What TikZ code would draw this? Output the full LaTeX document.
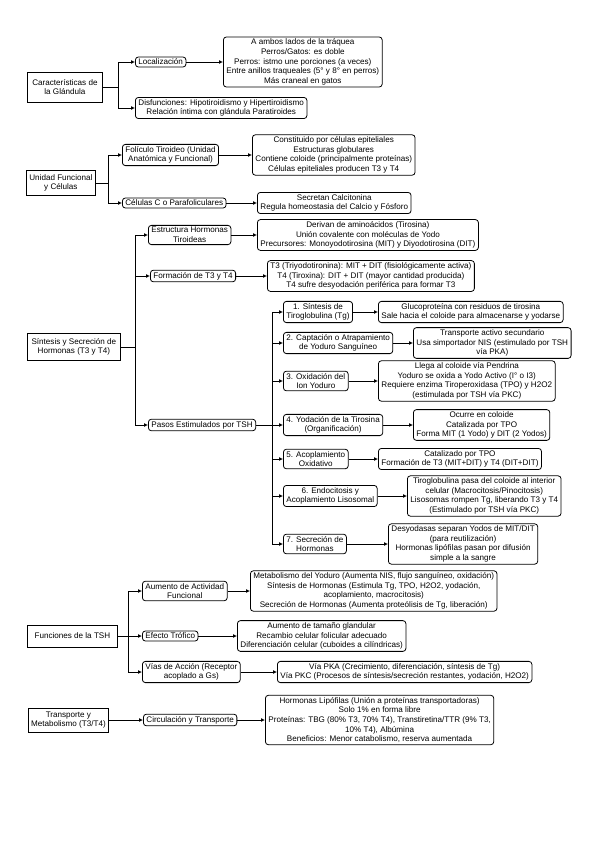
\documentclass[tikz,border=0pt]{standalone}
\usepackage{fontspec}
\setmainfont{Liberation Sans}
\usetikzlibrary{arrows.meta}
\begin{document}
\begin{tikzpicture}[x=1pt,y=-1pt,
  font=\fontsize{8.1}{9.6}\selectfont,
  rootbox/.style={draw, line width=0.8pt, align=center, inner xsep=2pt, inner ysep=3pt, anchor=west},
  subbox/.style={draw, rounded corners=3pt, line width=0.8pt, align=center, inner xsep=3pt, inner ysep=2pt, anchor=west},
  arr/.style={-{Latex[length=4pt,width=4pt]}, line width=0.8pt},
  ln/.style={line width=0.8pt}]
\useasboundingbox (0,0) rectangle (599,848);

% ---------- Root 1
\node[rootbox, minimum width=75pt, minimum height=30pt] (r1) at (27,87) {Características de\\la Glándula};
\node[subbox] (a1) at (135,62) {Localización};
\node[subbox] (a1d) at (223,62) {A ambos lados de la tráquea\\Perros/Gatos: es doble\\Perros: istmo une porciones (a veces)\\Entre anillos traqueales (5° y 8° en perros)\\Más craneal en gatos};
\node[subbox] (a2) at (135,108) {Disfunciones: Hipotiroidismo y Hipertiroidismo\\Relación íntima con glándula Paratiroides};
\coordinate (k1) at (118,87);
\draw[ln] (r1.east) -- (k1);
\draw[arr] (k1) |- (a1.west);
\draw[arr] (k1) |- (a2.west);
\draw[arr] (a1.east) -- (a1.east -| a1d.west);

% ---------- Root 2
\node[rootbox, minimum width=69pt, minimum height=25pt] (r2) at (26,183) {Unidad Funcional\\y Células};
\node[subbox] (b1) at (122,155) {Folículo Tiroideo (Unidad\\Anatómica y Funcional)};
\node[subbox] (b1d) at (252,155) {Constituido por células epiteliales\\Estructuras globulares\\Contiene coloide (principalmente proteínas)\\Células epiteliales producen T3 y T4};
\node[subbox] (b2) at (122,203) {Células C o Parafoliculares};
\node[subbox] (b2d) at (257,203) {Secretan Calcitonina\\Regula homeostasia del Calcio y Fósforo};
\coordinate (k2) at (108,183);
\draw[ln] (r2.east) -- (k2);
\draw[arr] (k2) |- (b1.west);
\draw[arr] (k2) |- (b2.west);
\draw[arr] (b1.east) -- (b1.east -| b1d.west);
\draw[arr] (b2.east) -- (b2.east -| b2d.west);

% ---------- Root 3
\node[rootbox, minimum width=93pt, minimum height=27pt] (r3) at (27,347) {Síntesis y Secreción de\\Hormonas (T3 y T4)};
\node[subbox] (c1) at (148,235) {Estructura Hormonas\\Tiroideas};
\node[subbox] (c1d) at (257,235) {Derivan de aminoácidos (Tirosina)\\Unión covalente con moléculas de Yodo\\Precursores: Monoyodotirosina (MIT) y Diyodotirosina (DIT)};
\node[subbox] (c2) at (150,276) {Formación de T3 y T4};
\node[subbox] (c2d) at (267,276) {T3 (Triyodotironina): MIT + DIT (fisiológicamente activa)\\T4 (Tiroxina): DIT + DIT (mayor cantidad producida)\\T4 sufre desyodación periférica para formar T3};
\node[subbox] (c3) at (148,425) {Pasos Estimulados por TSH};
\coordinate (k3) at (135,347);
\draw[ln] (r3.east) -- (k3);
\draw[arr] (k3) |- (c1.west);
\draw[arr] (k3) |- (c2.west);
\draw[arr] (k3) |- (c3.west);
\draw[arr] (c1.east) -- (c1.east -| c1d.west);
\draw[arr] (c2.east) -- (c2.east -| c2d.west);

% steps
\node[subbox] (s1) at (283,312) {1. Síntesis de\\Tiroglobulina (Tg)};
\node[subbox] (s1d) at (378,312) {Glucoproteína con residuos de tirosina\\Sale hacia el coloide para almacenarse y yodarse};
\node[subbox] (s2) at (283,343) {2. Captación o Atrapamiento\\de Yoduro Sanguíneo};
\node[subbox] (s2d) at (413,343) {Transporte activo secundario\\Usa simportador NIS (estimulado por TSH\\vía PKA)};
\node[subbox] (s3) at (283,381) {3. Oxidación del\\Ion Yoduro};
\node[subbox] (s3d) at (378,381) {Llega al coloide vía Pendrina\\Yoduro se oxida a Yodo Activo (I° o I3)\\Requiere enzima Tiroperoxidasa (TPO) y H2O2\\(estimulada por TSH vía PKC)};
\node[subbox] (s4) at (283,425) {4. Yodación de la Tirosina\\(Organificación)};
\node[subbox] (s4d) at (413,425) {Ocurre en coloide\\Catalizada por TPO\\Forma MIT (1 Yodo) y DIT (2 Yodos)};
\node[subbox] (s5) at (283,459) {5. Acoplamiento\\Oxidativo};
\node[subbox] (s5d) at (378,459) {Catalizado por TPO\\Formación de T3 (MIT+DIT) y T4 (DIT+DIT)};
\node[subbox] (s6) at (283,496) {6. Endocitosis y\\Acoplamiento Lisosomal};
\node[subbox] (s6d) at (407,496) {Tiroglobulina pasa del coloide al interior\\celular (Macrocitosis/Pinocitosis)\\Lisosomas rompen Tg, liberando T3 y T4\\(Estimulado por TSH vía PKC)};
\node[subbox] (s7) at (283,544) {7. Secreción de\\Hormonas};
\node[subbox] (s7d) at (388,544) {Desyodasas separan Yodos de MIT/DIT\\(para reutilización)\\Hormonas lipófilas pasan por difusión\\simple a la sangre};
\coordinate (k4) at (272,425);
\draw[ln] (c3.east) -- (k4);
\foreach \s in {s1,s2,s3,s4,s5,s6,s7}{
  \draw[arr] (k4) |- (\s.west);
  \draw[arr] (\s.east) -- (\s.east -| \s d.west);
}

% ---------- Root 4
\node[rootbox, minimum width=90pt, minimum height=22pt] (r4) at (27,636) {Funciones de la TSH};
\node[subbox] (d1) at (142,591) {Aumento de Actividad\\Funcional};
\node[subbox] (d1d) at (250,591) {Metabolismo del Yoduro (Aumenta NIS, flujo sanguíneo, oxidación)\\Síntesis de Hormonas (Estimula Tg, TPO, H2O2, yodación,\\acoplamiento, macrocitosis)\\Secreción de Hormonas (Aumenta proteólisis de Tg, liberación)};
\node[subbox] (d2) at (142,636) {Efecto Trófico};
\node[subbox] (d2d) at (237,636) {Aumento de tamaño glandular\\Recambio celular folicular adecuado\\Diferenciación celular (cuboides a cilíndricas)};
\node[subbox] (d3) at (142,672) {Vías de Acción (Receptor\\acoplado a Gs)};
\node[subbox] (d3d) at (277,672) {Vía PKA (Crecimiento, diferenciación, síntesis de Tg)\\Vía PKC (Procesos de síntesis/secreción restantes, yodación, H2O2)};
\coordinate (k5) at (128,636);
\draw[ln] (r4.east) -- (k5);
\draw[arr] (k5) |- (d1.west);
\draw[arr] (k5) -- (d2.west);
\draw[arr] (k5) |- (d3.west);
\draw[arr] (d1.east) -- (d1.east -| d1d.west);
\draw[arr] (d2.east) -- (d2.east -| d2d.west);
\draw[arr] (d3.east) -- (d3.east -| d3d.west);

% ---------- Root 5
\node[rootbox, minimum width=80pt, minimum height=24pt] (r5) at (28,720) {Transporte y\\Metabolismo (T3/T4)};
\node[subbox] (e1) at (143,720) {Circulación y Transporte};
\node[subbox] (e1d) at (265,720) {Hormonas Lipófilas (Unión a proteínas transportadoras)\\Solo 1\% en forma libre\\Proteínas: TBG (80\% T3, 70\% T4), Transtiretina/TTR (9\% T3,\\10\% T4), Albúmina\\Beneficios: Menor catabolismo, reserva aumentada};
\draw[arr] (r5.east) -- (e1.west);
\draw[arr] (e1.east) -- (e1.east -| e1d.west);
\end{tikzpicture}
\end{document}
